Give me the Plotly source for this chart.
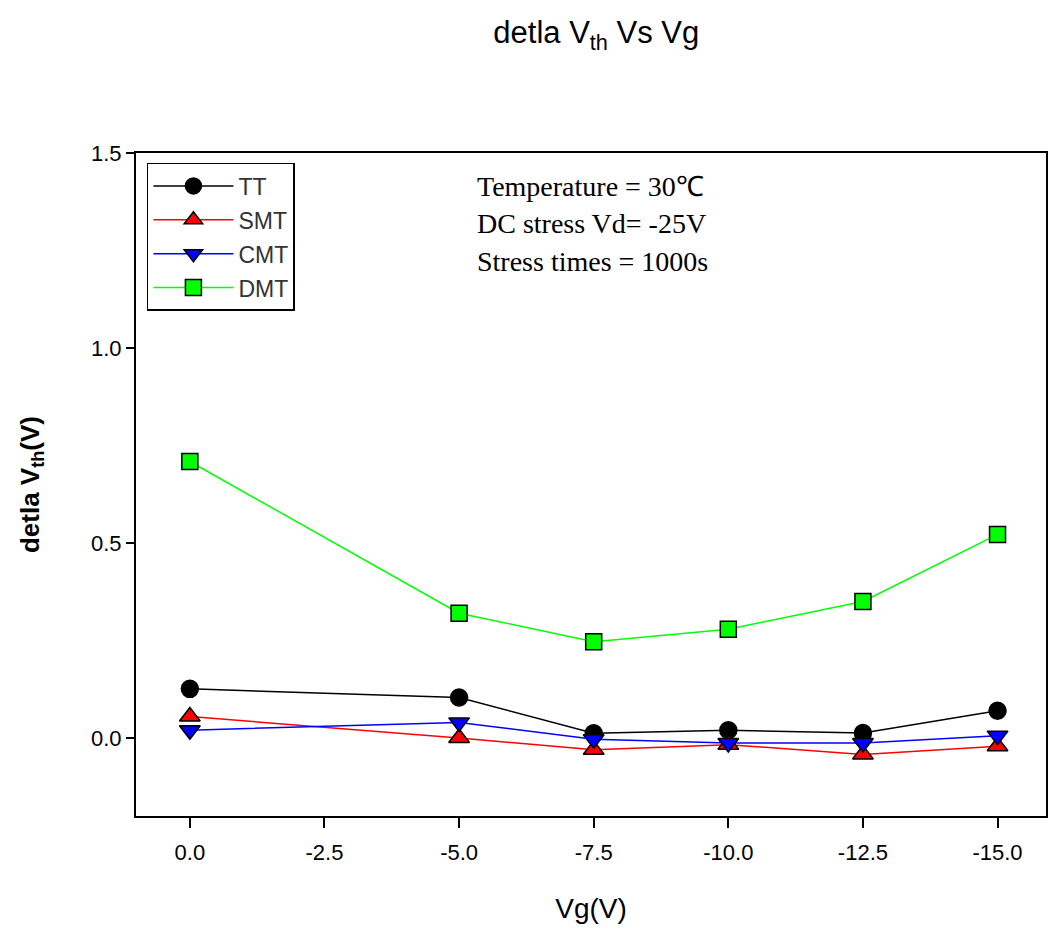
import plotly.graph_objects as go

# Gate voltage sweep (V)
vg = [0.0, -5.0, -7.5, -10.0, -12.5, -15.0]

# Threshold-voltage shift for each device type (V)
tt = [0.126, 0.104, 0.012, 0.020, 0.013, 0.070]
smt = [0.055, 0.000, -0.030, -0.017, -0.042, -0.021]
cmt = [0.020, 0.040, -0.003, -0.013, -0.013, 0.006]
dmt = [0.709, 0.320, 0.247, 0.279, 0.350, 0.522]

series_names = ["TT", "SMT", "CMT", "DMT"]
x_ticks = [0.0, -2.5, -5.0, -7.5, -10.0, -12.5, -15.0]
y_ticks = [0.0, 0.5, 1.0, 1.5]
notes = ["Temperature = 30\u2103", "DC stress Vd= -25V", "Stress times = 1000s"]

styles = [
    dict(color="#000000", symbol="circle", size=17),
    dict(color="#ff0000", symbol="triangle-up", size=18),
    dict(color="#0000ff", symbol="triangle-down", size=18),
    dict(color="#00ff00", symbol="square", size=16),
]

SANS = "Liberation Sans, Arial, sans-serif"
SERIF = "Liberation Serif, Times New Roman, serif"

fig = go.Figure()
for name, ys, st in zip(series_names, [tt, smt, cmt, dmt], styles):
    fig.add_trace(go.Scatter(
        x=vg, y=ys, name=name, legendgroup=name, mode="lines+markers",
        line=dict(color=st["color"], width=1.5),
        marker=dict(symbol=st["symbol"], size=st["size"], color=st["color"],
                    line=dict(color="#000000", width=1.5)),
    ))

fig.update_layout(
    width=1048, height=930,
    margin=dict(l=136, r=0, t=153, b=114),
    paper_bgcolor="white", plot_bgcolor="white",
    font=dict(family=SANS, size=22, color="#000000"),
    title=dict(text="detla V<sub>th</sub> Vs Vg", x=0.569, xanchor="center",
               y=0.965, yanchor="middle",
               font=dict(family=SANS, size=31, color="#000000")),
    showlegend=True,
    legend=dict(x=0.012, y=0.985, xanchor="left", yanchor="top",
                bgcolor="white", bordercolor="#000000", borderwidth=1.5,
                font=dict(family=SANS, size=23, color="#333333"),
                itemwidth=80, tracegroupgap=1),
    xaxis=dict(range=[1.0, -15.9], tickvals=x_ticks,
               ticktext=[f"{v:.1f}" for v in x_ticks],
               ticks="outside", ticklen=10, tickwidth=1.5, tickcolor="#000000",
               ticklabelstandoff=6,
               showline=True, linecolor="#000000", linewidth=2, mirror=True,
               showgrid=False, zeroline=False,
               title=dict(text="Vg(V)", standoff=34,
                          font=dict(family=SANS, size=28))),
    yaxis=dict(range=[-0.2, 1.5], tickvals=y_ticks,
               ticktext=[f"{v:.1f}" for v in y_ticks],
               ticks="outside", ticklen=8, tickwidth=1.5, tickcolor="#000000",
               showline=True, linecolor="#000000", linewidth=2, mirror=True,
               showgrid=False, zeroline=False,
               title=dict(text="<b>detla V<sub>th</sub>(V)</b>", standoff=44,
                          font=dict(family=SANS, size=26))),
)

# Measurement conditions
for txt, ypos in zip(notes, [0.950, 0.893, 0.837]):
    fig.add_annotation(
        text=txt, xref="paper", yref="paper",
        x=0.372, y=ypos, xanchor="left", yanchor="middle",
        showarrow=False,
        font=dict(family=SERIF, size=28, color="#000000"),
    )

fig.write_html("out.html")
